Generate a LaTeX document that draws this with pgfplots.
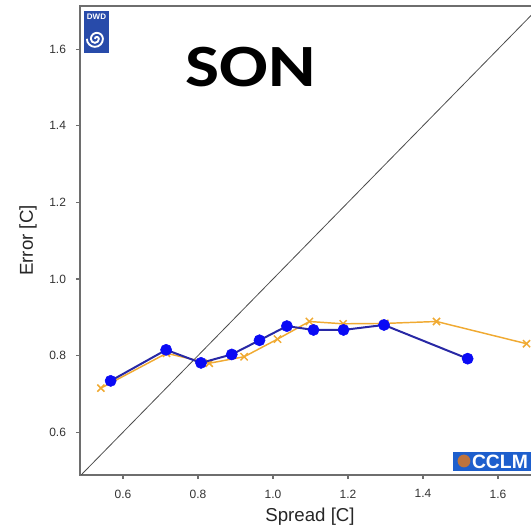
\documentclass[border=0pt]{standalone}
\usepackage{pgfplots}
\pgfplotsset{compat=1.18}
\usepackage{graphicx}
\usepackage{fontspec}
\setmainfont{Liberation Sans}
\newfontfamily\titlefont{Carlito}

\definecolor{spreadblue}{RGB}{10,10,245}
\definecolor{lineblue}{RGB}{40,40,165}
\definecolor{refor}{RGB}{240,170,50}
\definecolor{axisgray}{RGB}{110,110,110}
\definecolor{dwdblue}{RGB}{40,75,170}
\definecolor{cclmblue}{RGB}{30,95,205}
\definecolor{globe}{RGB}{190,115,60}

\begin{document}
\begin{tikzpicture}
\begin{axis}[
  x=281.25pt, y=287.25pt,
  xmin=0.4853, xmax=1.712, ymin=0.4883, ymax=1.7128,
  clip mode=individual,
  axis line style={axisgray, line width=1pt},
  xtick={0.6,0.8,1.0,1.2,1.4,1.6},
  ytick={0.6,0.8,1.0,1.2,1.4,1.6},
  tick align=outside, xtick pos=bottom, ytick pos=left,
  major tick length=3pt,
  tick style={axisgray, line width=0.8pt},
  ticklabel style={font=\fontsize{9}{10}\selectfont, text=black!80},
  xticklabel style={yshift=-4.5pt},
  yticklabel style={xshift=-4pt},
  /pgf/number format/fixed,
  /pgf/number format/fixed zerofill,
  /pgf/number format/precision=1,
  /pgf/number format/assume math mode=true,
]
  % reference diagonal: error = spread
  \addplot[black!70, line width=0.6pt] coordinates {(0.4,0.4) (1.8,1.8)};

  % orange series (crosses)
  \addplot[refor, line width=1.1pt, mark=x, mark size=3.8pt,
           mark options={line width=1.1pt}] coordinates {
    (0.541,0.715) (0.716,0.806) (0.830,0.780) (0.923,0.797) (1.012,0.843)
    (1.097,0.889) (1.187,0.883) (1.298,0.884) (1.436,0.889) (1.676,0.831)
  };

  % blue series (dots)
  \addplot[lineblue, line width=1.5pt, mark=*, mark size=4.2pt,
           mark options={fill=spreadblue, draw=spreadblue, line width=0.4pt}] coordinates {
    (0.567,0.734) (0.715,0.815) (0.808,0.781) (0.890,0.803) (0.964,0.840)
    (1.037,0.877) (1.108,0.867) (1.188,0.867) (1.296,0.880) (1.519,0.792)
  };

  % axis titles
  \node[rotate=90, font=\fontsize{14}{16}\selectfont, text=black!85]
       at (axis cs:0.3467,1.1005) {Error [C]};
  \node[font=\fontsize{14}{16}\selectfont, text=black!85]
       at (axis cs:1.0987,0.3786) {Spread [C]};

  % season title
  \node[anchor=base, font=\titlefont\bfseries\fontsize{45}{50}\selectfont]
       at (axis cs:0.9408,1.502) {\scalebox{1.2}[1]{SON}};

  % DWD badge
  \fill[dwdblue] (axis cs:0.4960,1.5901) rectangle (axis cs:0.5627,1.6997);
  \node[white, font=\bfseries\fontsize{6}{6}\selectfont, inner sep=0pt]
       at (axis cs:0.5293,1.684) {DWD};
  \draw[white, line width=1.4pt] (axis cs:0.5250,1.627)
       arc[start angle=180, end angle=0, radius=1.5pt]
       arc[start angle=0, end angle=-180, radius=3pt]
       arc[start angle=180, end angle=0, radius=4.5pt]
       arc[start angle=0, end angle=-180, radius=6pt];

  % CCLM badge
  \fill[cclmblue] (axis cs:1.480,0.4987) rectangle (axis cs:1.75,0.5483);
  \fill[globe] (axis cs:1.5093,0.5248) circle[radius=4.8pt];
  \node[anchor=west, white, font=\bfseries\fontsize{14.5}{15}\selectfont, inner sep=0pt]
       at (axis cs:1.5300,0.5235) {CCLM};

  \coordinate (SW) at (axis cs:0.4853,0.4883);
  \coordinate (TR) at (axis cs:1.688,1.7128);
\end{axis}
\pgfresetboundingbox
\path ([shift={(-60pt,-41.25pt)}]SW) rectangle ([yshift=4.5pt]TR);
\end{tikzpicture}
\end{document}
